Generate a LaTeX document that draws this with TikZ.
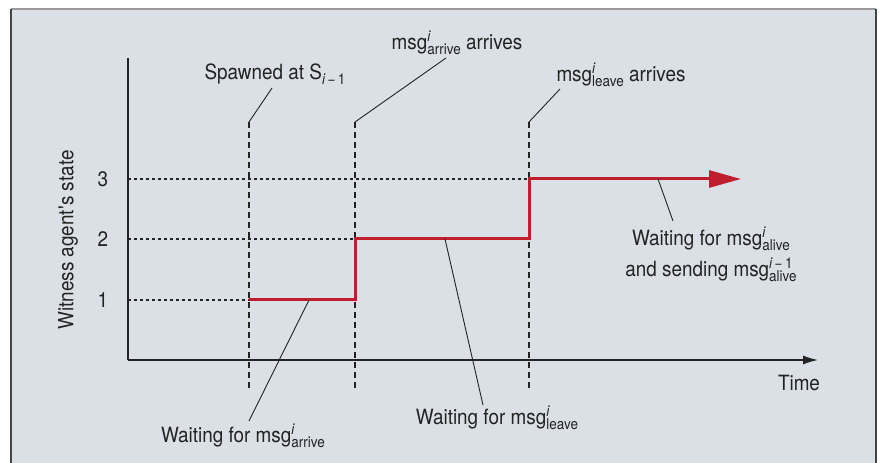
\documentclass[tikz,border=0pt]{standalone}
\usepackage{fontspec}
\setmainfont{TeX Gyre Heros}[FakeStretch=0.9]
\usetikzlibrary{arrows.meta}
\definecolor{bg}{RGB}{218,224,230}
\definecolor{redline}{RGB}{190,30,45}
\definecolor{ink}{RGB}{35,35,35}
\newcommand\subf{\fontsize{15bp}{16bp}\selectfont}
\newcommand\mysupsub[2]{\mbox{\rlap{\raisebox{8bp}{\subf\itshape #1}}\raisebox{-5bp}{\subf #2}}}
\begin{document}
\begin{tikzpicture}[x=1bp,y=-1bp,
  lbl/.style={inner sep=0pt, text=ink, font=\fontsize{21bp}{25bp}\selectfont},
  axis/.style={draw=ink, line width=1.3bp},
  vdash/.style={draw=ink, line width=1.3bp, dash pattern=on 6bp off 4bp},
  hdot/.style={draw=ink, line width=1.3bp, dash pattern=on 3bp off 3bp},
  leader/.style={draw=ink, line width=0.9bp},
  state/.style={draw=redline, line width=3bp}]
\useasboundingbox (0,0) rectangle (879,463);
\fill[white] (0,0) rectangle (879,463);
\fill[bg] (11,9) rectangle (876,463);
\draw[gray!80, line width=2bp] (11,9.5) -- (876,9.5);
\draw[ink!85, line width=1.6bp] (11,9) -- (11,463);
\draw[ink!85, line width=1.6bp] (876,9) -- (876,463);

% axes
\coordinate (ytop) at (128,58);
\coordinate (orig) at (128,360);
\coordinate (xend) at (818,360);
\draw[axis] (ytop) -- (orig);
\draw[axis, -{Latex[length=15bp,width=9bp]}] (orig) -- (xend);

% vertical dashed lines
\coordinate (t1top) at (249,122); \coordinate (t1bot) at (249,388);
\coordinate (t2top) at (355,122); \coordinate (t2bot) at (355,388);
\coordinate (t3top) at (529,122); \coordinate (t3bot) at (529,388);
\draw[vdash] (t1top) -- (t1bot);
\draw[vdash] (t2top) -- (t2bot);
\draw[vdash] (t3top) -- (t3bot);

% levels
\coordinate (l1) at (128,300); \coordinate (l2) at (128,239); \coordinate (l3) at (128,179);
\coordinate (p1) at (249,300); \coordinate (p2) at (355,300); \coordinate (p3) at (355,239);
\coordinate (p4) at (529,239); \coordinate (p5) at (529,179); \coordinate (p6) at (741,179);
\draw[hdot] (l1) -- (p1);
\draw[hdot] (l2) -- (p3);
\draw[hdot] (l3) -- (p5);
\draw[state, -{Triangle[length=32bp,width=17bp]}] (p1) -- (p2) -- (p3) -- (p4) -- (p5) -- (p6);

% tick labels
\node[lbl] (n3) at (103,179) {3};
\node[lbl] (n2) at (103,239) {2};
\node[lbl] (n1) at (103,300) {1};
\node[lbl, rotate=90] (ylab) at (68,240) {Witness agent\textquotesingle s state};
\node[lbl] (time) at (799,383) {Time};

% top labels
\node[lbl] (spawn) at (275,74) {Spawned at S\raisebox{-5bp}{\subf\itshape i\,\upshape−\,1}};
\node[lbl] (arr) at (457,43) {msg\mysupsub{i}{arrive} arrives};
\node[lbl] (lev) at (621,75) {msg\mysupsub{i}{leave} arrives};
\coordinate (spawnL) at (272,88);
\coordinate (arrL) at (446,58);
\coordinate (levL) at (560,89);
\draw[leader] (spawnL) -- (t1top);
\draw[leader] (arrL) -- (t2top);
\draw[leader] (levL) -- (t3top);

% bottom labels
\node[lbl] (warr) at (243,436) {Waiting for msg\mysupsub{i}{arrive}};
\node[lbl] (wlev) at (497,418) {Waiting for msg\mysupsub{i}{leave}};
\node[lbl, align=center] (wal) at (711,254) {Waiting for msg\mysupsub{i}{alive}\\[6bp] and sending msg\mysupsub{i\,\upshape−\,1}{alive}};
\coordinate (a1) at (309,300); \coordinate (a2) at (249,421);
\coordinate (b1) at (445,239); \coordinate (b2) at (483,405);
\coordinate (c1) at (658,179); \coordinate (c2) at (673,221);
\draw[leader] (a1) -- (a2);
\draw[leader] (b1) -- (b2);
\draw[leader] (c1) -- (c2);
\end{tikzpicture}
\end{document}
